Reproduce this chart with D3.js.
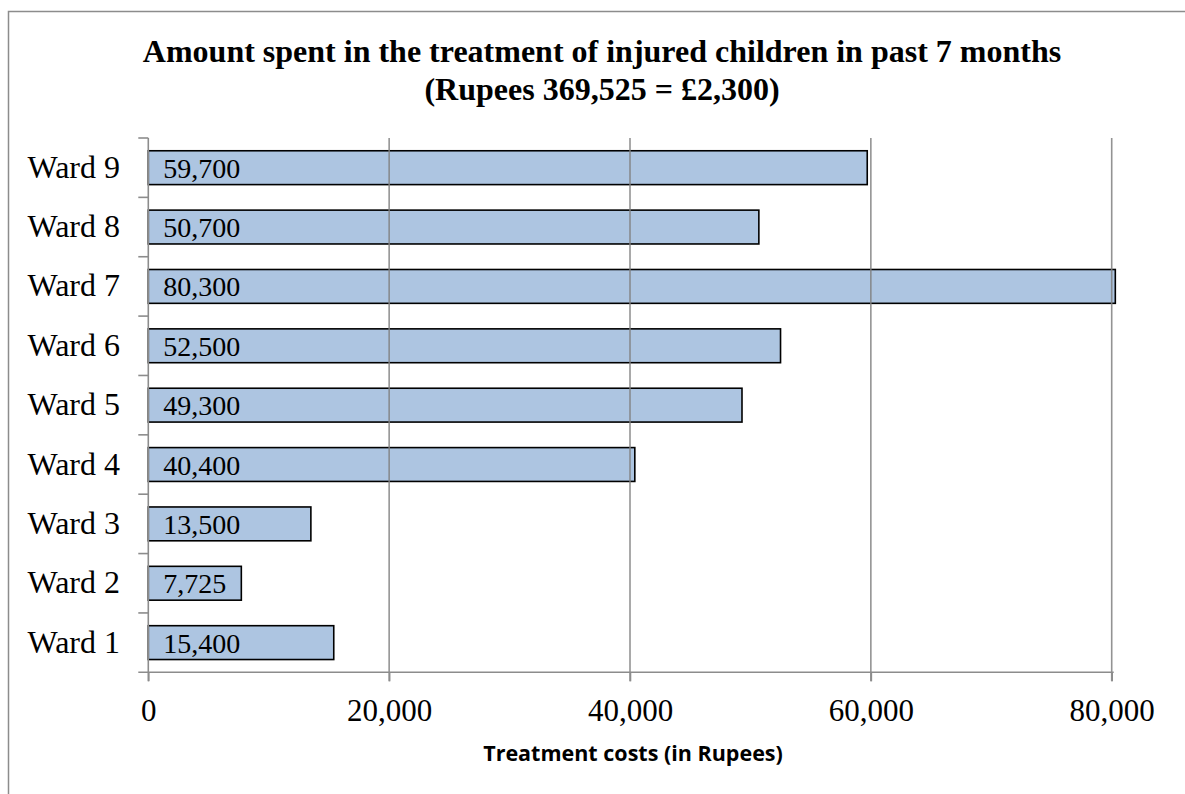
<!DOCTYPE html>
<html><head><meta charset="utf-8">
<script src="https://cdn.jsdelivr.net/npm/d3@7"></script>
<style>body{margin:0;background:#fff}</style>
</head><body>
<svg id="c" width="1185" height="794"></svg>
<script>
const categories = ["Ward 1","Ward 2","Ward 3","Ward 4","Ward 5","Ward 6","Ward 7","Ward 8","Ward 9"];
const values = [15400, 7725, 13500, 40400, 49300, 52500, 80300, 50700, 59700];
const valueLabels = ["15,400","7,725","13,500","40,400","49,300","52,500","80,300","50,700","59,700"];
const xTicks = [0, 20000, 40000, 60000, 80000];
const titleLines = ["Amount spent in the treatment of injured children in past 7 months","(Rupees 369,525 = \u00a32,300)"];
const xTitle = "Treatment costs (in Rupees)";

const svg = d3.select("#c");
const L = 148.3, R = 1111.7, T = 138, B = 672.3;
const x = d3.scaleLinear().domain([0, 80000]).range([L, R]);
const y = d3.scaleBand().domain(categories.slice().reverse()).range([T, B]).paddingInner(0.43).paddingOuter(0.215);
const yb = d3.scaleBand().domain(categories.slice().reverse()).range([T, B]);

// frame
svg.append("path").attr("d", `M8.5,794 V11.5 H1185`).attr("fill","none").attr("stroke","#8c8c8c").attr("stroke-width",1.5);

// title
svg.append("g").selectAll("text").data(titleLines).join("text")
  .attr("x", 602).attr("y", (d,i)=>62 + i*38).attr("text-anchor","middle")
  .attr("font-family","Liberation Serif").attr("font-weight","bold").attr("font-size",32)
  .text(d=>d);

// bars
svg.append("g").selectAll("rect").data(values).join("rect")
  .attr("x", x(0)).attr("y", (d,i)=>y(categories[i])).attr("width", d=>x(d)-x(0)).attr("height", y.bandwidth())
  .attr("fill","#adc5e1").attr("stroke","#000").attr("stroke-width",1.6);

// gridlines (drawn over bars)
svg.append("g").selectAll("line").data(xTicks.slice(1)).join("line")
  .attr("x1", d=>x(d)).attr("x2", d=>x(d)).attr("y1", T).attr("y2", B+9)
  .attr("stroke","#808080").attr("stroke-width",1.6).attr("stroke-opacity",0.85);

// y axis
svg.append("line").attr("x1",L).attr("x2",L).attr("y1",T).attr("y2",B+9).attr("stroke","#8c8c8c").attr("stroke-width",1.6);
const boundaries = d3.range(categories.length).map(i=>T + i*yb.step());
svg.append("g").selectAll("line").data(boundaries).join("line")
  .attr("x1",L-10).attr("x2",L).attr("y1",d=>d).attr("y2",d=>d).attr("stroke","#8c8c8c").attr("stroke-width",1.6);
svg.append("g").selectAll("text").data(categories).join("text")
  .attr("x", 120).attr("y", d=>yb(d)+yb.bandwidth()/2 + 10).attr("text-anchor","end")
  .attr("font-family","Liberation Serif").attr("font-size",32).text(d=>d);

// x axis
svg.append("line").attr("x1",L-10).attr("x2",R+2).attr("y1",B).attr("y2",B).attr("stroke","#8c8c8c").attr("stroke-width",1.6);
const xAxis = d3.axisBottom(x).tickValues(xTicks).tickFormat(d3.format(",")).tickSize(9).tickSizeOuter(0);
const gx = svg.append("g").attr("transform",`translate(0,${B})`).call(xAxis);
gx.select(".domain").remove();
gx.selectAll(".tick line").attr("stroke","#8c8c8c").attr("stroke-width",1.6);
gx.selectAll(".tick text").attr("font-family","Liberation Serif").attr("font-size",31).attr("fill","#000").attr("dy",0).attr("y",49);

// value labels
svg.append("g").selectAll("text").data(values).join("text")
  .attr("x", x(0)+15).attr("y", (d,i)=>y(categories[i]) + y.bandwidth()/2 + 10)
  .attr("font-family","Liberation Serif").attr("font-size",28).text((d,i)=>valueLabels[i]);

// x title
svg.append("text").attr("x",633).attr("y",761).attr("text-anchor","middle")
  .attr("font-family","Open Sans").attr("font-weight","bold").attr("font-size",21.5).text(xTitle);
</script>
</body></html>
